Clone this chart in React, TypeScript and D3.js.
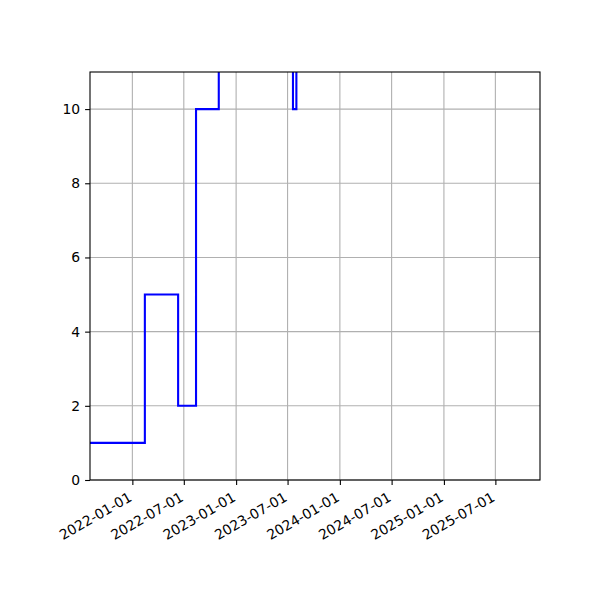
import { useEffect, useRef } from "react";
import * as d3 from "d3";

// Step changes (value holds until the next date)
const stepDates = [
  "2021-08-05",
  "2022-02-14",
  "2022-06-11",
  "2022-08-13",
  "2022-11-01",
  "2023-07-20",
  "2023-08-01",
  "2025-12-05",
];
const stepValues = [1, 5, 2, 10, 12, 10, 12, 12];

const xTickLabels = [
  "2022-01-01",
  "2022-07-01",
  "2023-01-01",
  "2023-07-01",
  "2024-01-01",
  "2024-07-01",
  "2025-01-01",
  "2025-07-01",
];
const yTickValues = [0, 2, 4, 6, 8, 10];

export default function App() {
  const ref = useRef<SVGSVGElement>(null);

  useEffect(() => {
    if (!ref.current) return;
    const svg = d3.select(ref.current);
    svg.selectAll("*").remove();

    const width = 600;
    const height = 600;
    const margin = { top: 72, right: 60, bottom: 120, left: 90 };
    const parse = d3.utcParse("%Y-%m-%d");

    const data = stepDates.map((d, i) => ({ date: parse(d)!, value: stepValues[i] }));

    const x = d3.scaleUtc()
      .domain([parse("2021-08-05")!, parse("2025-12-05")!])
      .range([margin.left, width - margin.right]);

    const y = d3.scaleLinear()
      .domain([0, 11])
      .range([height - margin.bottom, margin.top]);

    svg.append("rect")
      .attr("width", width)
      .attr("height", height)
      .attr("fill", "white");

    const tickDates = xTickLabels.map(d => parse(d)!);

    // grid
    const grid = svg.append("g")
      .attr("stroke", "#b0b0b0")
      .attr("stroke-width", 1.1);
    grid.selectAll("line.gx")
      .data(tickDates)
      .join("line")
      .attr("x1", d => x(d))
      .attr("x2", d => x(d))
      .attr("y1", y(0))
      .attr("y2", y(11));
    grid.selectAll("line.gy")
      .data(yTickValues)
      .join("line")
      .attr("class", "gy")
      .attr("x1", x.range()[0])
      .attr("x2", x.range()[1])
      .attr("y1", d => y(d))
      .attr("y2", d => y(d));

    svg.append("clipPath")
      .attr("id", "plot-clip")
      .append("rect")
      .attr("x", margin.left)
      .attr("y", margin.top)
      .attr("width", width - margin.left - margin.right)
      .attr("height", height - margin.top - margin.bottom);

    const line = d3.line<{ date: Date; value: number }>()
      .x(d => x(d.date))
      .y(d => y(d.value))
      .curve(d3.curveStepAfter);

    svg.append("path")
      .datum(data)
      .attr("clip-path", "url(#plot-clip)")
      .attr("fill", "none")
      .attr("stroke", "#0000ff")
      .attr("stroke-width", 2.1)
      .attr("stroke-linejoin", "miter")
      .attr("d", line);

    // frame
    svg.append("rect")
      .attr("x", margin.left)
      .attr("y", margin.top)
      .attr("width", width - margin.left - margin.right)
      .attr("height", height - margin.top - margin.bottom)
      .attr("fill", "none")
      .attr("stroke", "black")
      .attr("stroke-width", 1.1);

    // x axis
    const fmt = d3.utcFormat("%Y-%m-%d");
    const xAxis = svg.append("g")
      .attr("transform", `translate(0,${height - margin.bottom})`)
      .call(d3.axisBottom(x).tickValues(tickDates).tickFormat(d => fmt(d as Date)).tickSize(4.9).tickSizeOuter(0))
      .call(g => g.select(".domain").remove());
    xAxis.selectAll("line").attr("stroke-width", 1.1);
    xAxis.selectAll("text")
      .attr("font-family", "DejaVu Sans")
      .attr("font-size", 13.9)
      .attr("fill", "black")
      .attr("text-anchor", "end")
      .attr("dy", null)
      .attr("y", 0)
      .attr("transform", "translate(0,20) rotate(-30)");

    // y axis
    const yAxis = svg.append("g")
      .attr("transform", `translate(${margin.left},0)`)
      .call(d3.axisLeft(y).tickValues(yTickValues).tickSize(4.9).tickPadding(4.9).tickSizeOuter(0))
      .call(g => g.select(".domain").remove());
    yAxis.selectAll("line").attr("stroke-width", 1.1);
    yAxis.selectAll("text")
      .attr("font-family", "DejaVu Sans")
      .attr("font-size", 13.9)
      .attr("fill", "black");
  }, []);

  return (
    <svg ref={ref} width={600} height={600} style={{ display: "block", margin: -8 }} />
  );
}
